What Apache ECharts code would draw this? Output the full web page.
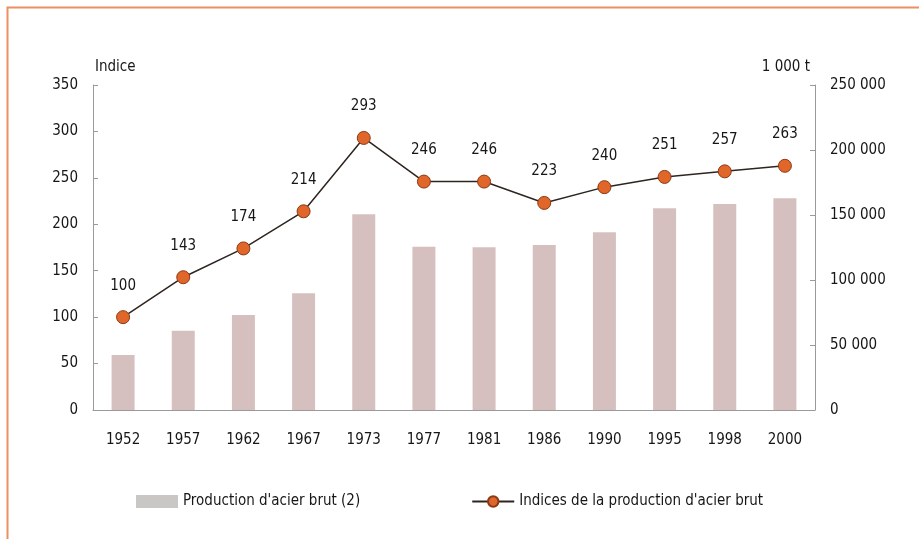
<!DOCTYPE html>
<html>
<head>
<meta charset="utf-8">
<script src="https://cdn.jsdelivr.net/npm/echarts@6/dist/echarts.min.js"></script>
<style>
html,body{margin:0;padding:0;background:#fff;}
#c{width:919px;height:539px;}
</style>
</head>
<body>
<div id="c"></div>
<script>
const years = ['1952','1957','1962','1967','1973','1977','1981','1986','1990','1995','1998','2000'];
const production = [42300, 61000, 73100, 89800, 150500, 125600, 125100, 126900, 136700, 155200, 158500, 162800];
const indices = [100, 143, 174, 214, 293, 246, 246, 223, 240, 251, 257, 263];
const leftTicks = [0, 50, 100, 150, 200, 250, 300, 350];
const rightTicks = [0, 50000, 100000, 150000, 200000, 250000];

const FONT = '"DejaVu Sans Condensed", "DejaVu Sans", sans-serif';
const FS = 15;
const TXT = '#161616';
const chart = echarts.init(document.getElementById('c'), null, {renderer: 'canvas'});
const fmtThousands = v => String(v).replace(/\B(?=(\d{3})+(?!\d))/g, ' ');

chart.setOption({
  animation: false,
  backgroundColor: '#ffffff',
  textStyle: {fontFamily: FONT},
  graphic: [{
    type: 'rect', left: 5, top: 5, silent: true,
    shape: {width: 930, height: 550},
    style: {fill: 'none', stroke: '#ec8f62', lineWidth: 2}
  }],
  grid: {left: 93, right: 104, top: 85, bottom: 129},
  legend: {
    left: 131, top: 489, itemGap: 111,
    itemWidth: 42, itemHeight: 13,
    textStyle: {fontFamily: FONT, fontSize: FS, color: TXT},
    data: [
      {name: "Production d'acier brut (2)", icon: 'rect', itemStyle: {color: '#c9c6c6'}},
      {name: "Indices de la production d'acier brut"}
    ]
  },
  xAxis: {
    type: 'category', data: years,
    axisLine: {lineStyle: {color: '#9a9a9a'}},
    axisTick: {show: false},
    axisLabel: {margin: 23, fontFamily: FONT, fontSize: FS, color: TXT}
  },
  yAxis: [{
    type: 'value', min: 0, max: 350, interval: 50,
    name: 'Indice', nameLocation: 'end', nameGap: 18,
    nameTextStyle: {fontFamily: FONT, fontSize: FS, color: TXT, align: 'left', verticalAlign: 'middle', padding: [0, 0, 0, 2]},
    axisLine: {show: true, lineStyle: {color: '#9a9a9a'}},
    axisTick: {show: true, inside: true, length: 5, lineStyle: {color: '#9a9a9a'}},
    splitLine: {show: false},
    axisLabel: {margin: 15, fontFamily: FONT, fontSize: FS, color: TXT}
  }, {
    type: 'value', min: 0, max: 250000, interval: 50000, position: 'right',
    name: '1 000 t', nameLocation: 'end', nameGap: 18,
    nameTextStyle: {fontFamily: FONT, fontSize: FS, color: TXT, align: 'right', verticalAlign: 'middle', padding: [0, 5, 0, 0]},
    axisLine: {show: true, lineStyle: {color: '#9a9a9a'}},
    axisTick: {show: true, inside: true, length: 5, lineStyle: {color: '#9a9a9a'}},
    splitLine: {show: false},
    axisLabel: {margin: 15, fontFamily: FONT, fontSize: FS, color: TXT, formatter: fmtThousands}
  }],
  series: [{
    name: "Production d'acier brut (2)",
    type: 'bar', yAxisIndex: 1, barWidth: 23,
    data: production,
    itemStyle: {color: '#d6c0bf'}
  }, {
    name: "Indices de la production d'acier brut",
    type: 'line', yAxisIndex: 0,
    data: indices,
    symbol: 'circle', symbolSize: 13,
    lineStyle: {color: '#2e2420', width: 1.5},
    itemStyle: {color: '#e0662a', borderColor: '#8a3a14', borderWidth: 1},
    label: {show: true, position: 'top', distance: 17, fontFamily: FONT, fontSize: FS, color: TXT}
  }]
});
</script>
</body>
</html>
